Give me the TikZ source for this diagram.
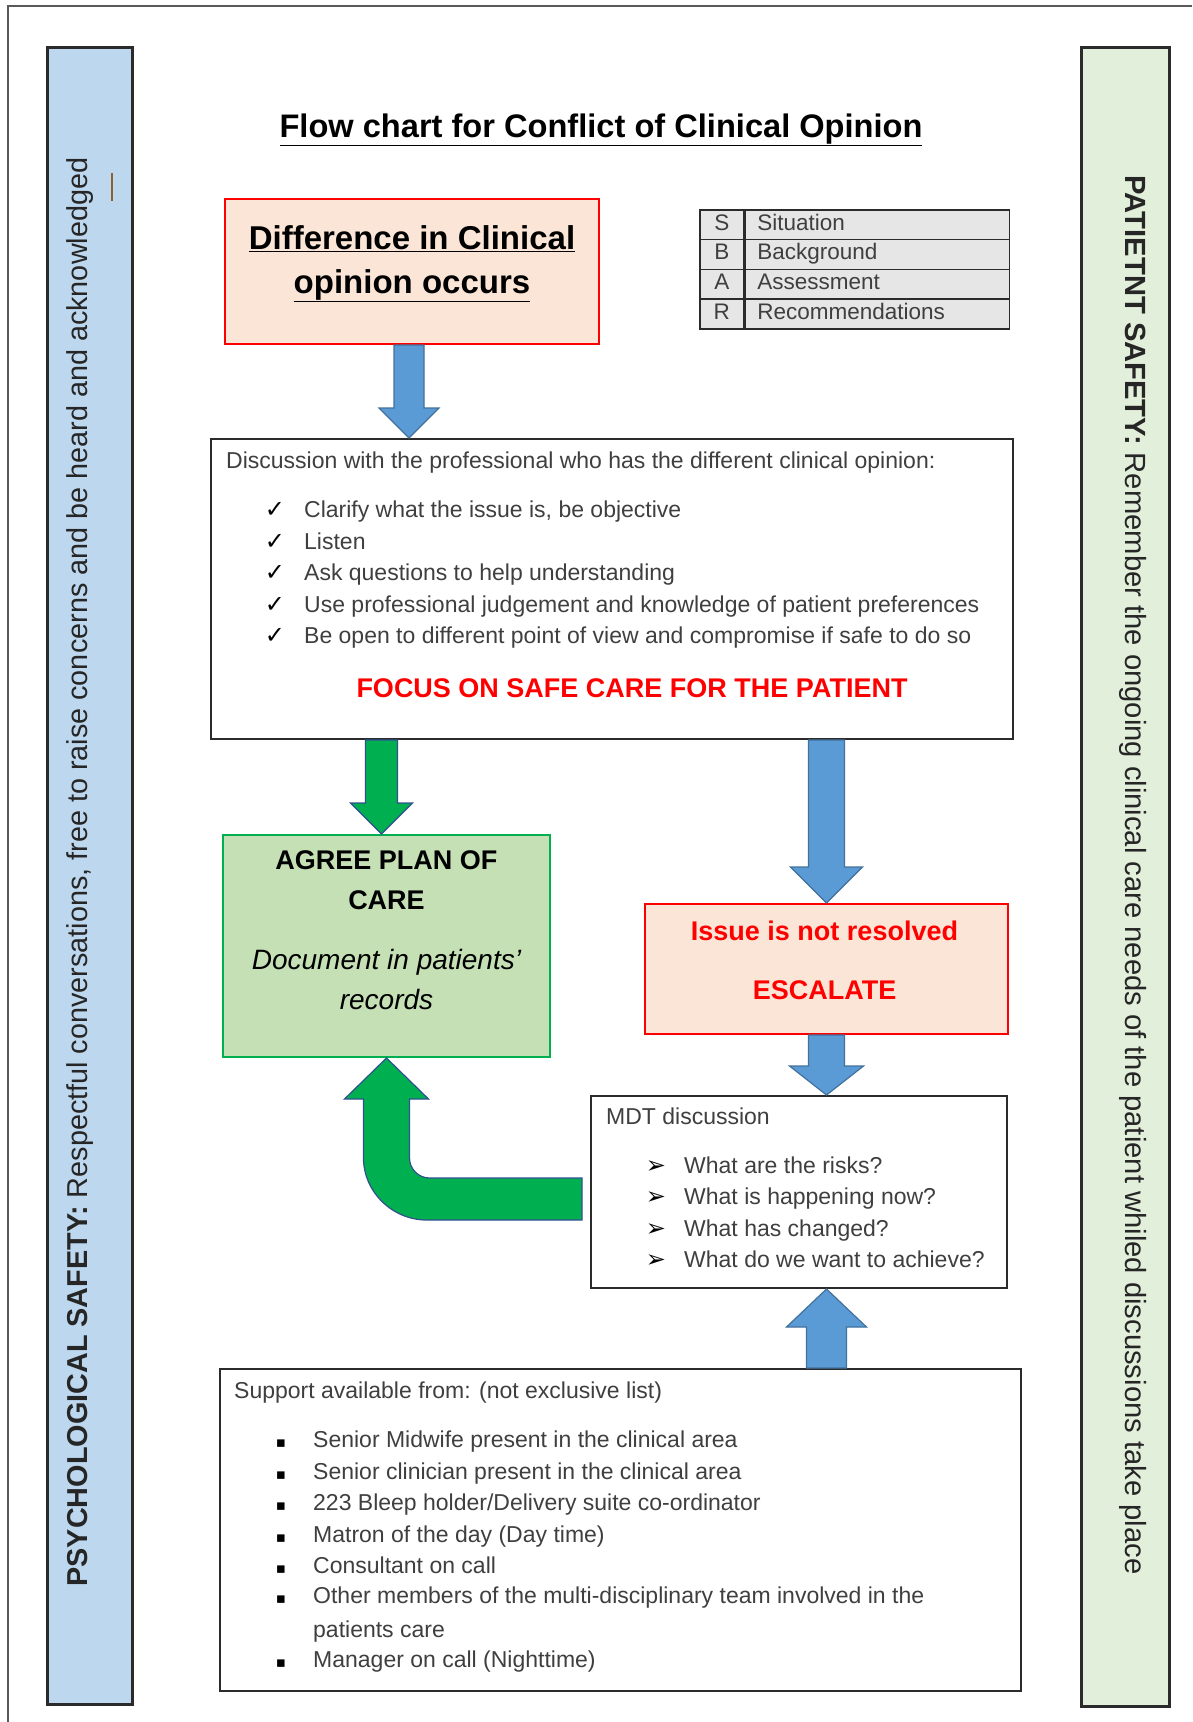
\documentclass[tikz,border=0pt]{standalone}
\usepackage{fontspec}
\setmainfont{Liberation Sans}
\newfontfamily\dejavu{DejaVu Sans}
\usetikzlibrary{calc}

\definecolor{bodygray}{HTML}{3F3F3F}
\definecolor{edgegray}{HTML}{2B2B2B}
\definecolor{salmon}{HTML}{FBE5D6}
\definecolor{alertred}{HTML}{FF0000}
\definecolor{agreefill}{HTML}{C5E0B4}
\definecolor{agreeline}{HTML}{00B050}
\definecolor{sbarfill}{HTML}{E7E6E6}
\definecolor{psyfill}{HTML}{BDD7EE}
\definecolor{patfill}{HTML}{E2EFDA}
\definecolor{arrowblue}{HTML}{5B9BD5}
\definecolor{arrowblueline}{HTML}{41719C}
\definecolor{arrowgreen}{HTML}{00B050}
\definecolor{arrowgreenline}{HTML}{2F528F}

\newcommand{\fsz}[2]{\fontsize{#1}{#2}\selectfont}

% block arrow: style, from, to, shaft half width, head half width, head length
\newcommand{\blockarrow}[6]{%
  \coordinate (ba-s) at (#2);
  \coordinate (ba-t) at (#3);
  \coordinate (ba-h) at ($(ba-t)!#6!(ba-s)$);
  \draw[#1] ($(ba-s)!#4!90:(ba-t)$) -- ($(ba-h)!#4!90:(ba-t)$)
    -- ($(ba-h)!#5!90:(ba-t)$) -- (ba-t) -- ($(ba-h)!#5!-90:(ba-t)$)
    -- ($(ba-h)!#4!-90:(ba-t)$) -- ($(ba-s)!#4!-90:(ba-t)$) -- cycle;}

\tikzset{
  every node/.style={inner sep=0pt, font=\fsz{23}{28}},
  plainbox/.style={draw=edgegray, line width=2pt, fill=white, anchor=north west},
  alertbox/.style={draw=alertred, line width=2pt, fill=salmon, anchor=north west},
  agreebox/.style={draw=agreeline, line width=2pt, fill=agreefill, anchor=north west},
  sidebar/.style={draw=edgegray, line width=2.5pt, anchor=north west},
  sidetext/.style={text=black!85},
  sbarcell/.style={draw=edgegray, line width=1.5pt, fill=sbarfill, minimum height=29.75,
    text=bodygray, font=\fsz{22.5}{26}, text height=16pt, text depth=5pt},
  listtext/.style={anchor=west, text=bodygray, text height=17pt, text depth=6pt},
  marktext/.style={listtext, anchor=center, text=black, font=\dejavu\fsz{24}{28}},
  dotmark/.style={marktext, font=\dejavu\fsz{15}{20}},
  bluearrow/.style={fill=arrowblue, draw=arrowblueline, line width=1.2pt},
  greenarrow/.style={fill=arrowgreen, draw=arrowgreenline, line width=1.2pt}
}

\begin{document}
\begin{tikzpicture}[x=1pt, y=-1pt]
\useasboundingbox (0,0) rectangle (1192,1722);
\draw[black!65, line width=2pt] (8,1722) -- (8,6) -- (1192,6);

\node[sidebar, fill=psyfill, minimum width=85, minimum height=1657] (psybar) at (46,46) {};
\node[sidetext, rotate=90, font=\fsz{28.8}{34}] (psytext) at (80,872)
  {\textbf{PSYCHOLOGICAL SAFETY:} Respectful conversations, free to raise concerns and be heard and acknowledged};
\draw[brown!75!black, line width=1.5pt] (112,173) -- (112,201);
\node[sidebar, fill=patfill, minimum width=88, minimum height=1659] (patbar) at (1080,46) {};
\node[sidetext, rotate=-90, font=\fsz{29.2}{34}] (pattext) at (1133,875)
  {\textbf{PATIETNT SAFETY:} Remember the ongoing clinical care needs of the patient whiled discussions take place};

\node[font=\bfseries\fsz{32.6}{38}] (title) at (601,130) {\underline{Flow chart for Conflict of Clinical Opinion}};

\node[alertbox, minimum width=374, minimum height=145] (diff) at (224,198) {};
\node[font=\bfseries\fsz{33}{44}, align=center] (difftext) at ($(diff.center)+(0,-8)$)
  {\underline{Difference in Clinical}\\\underline{opinion occurs}};

\foreach \l/\w [count=\i] in {S/Situation, B/Background, A/Assessment, R/Recommendations}{
  \node[sbarcell, minimum width=44, anchor=north west] (sbl\i) at (699,{209+29.75*(\i-1)}) {\l};
  \node[sbarcell, minimum width=264, anchor=west, text width=240pt, align=left] (sbw\i) at (sbl\i.east) {\w};
}

\node[plainbox, minimum width=802, minimum height=300] (disc) at (210,438) {};
\node[listtext] (dischead) at ($(disc.north west)+(16,25)$)
  {Discussion with the professional who has the different clinical opinion:};
\foreach \txt [count=\i] in {{Clarify what the issue is, be objective}, Listen, Ask questions to help understanding,
    Use professional judgement and knowledge of patient preferences,
    Be open to different point of view and compromise if safe to do so}{
  \node[marktext] (disctick\i) at ($(disc.north west)+(65,{74+31.5*(\i-1)})$) {✓};
  \node[listtext] (discitem\i) at ($(disc.north west)+(94,{74+31.5*(\i-1)})$) {\txt};
}
\node[font=\bfseries\fsz{27}{32}, text=alertred] (focus) at ($(disc.north west)+(422,250)$)
  {FOCUS ON SAFE CARE FOR THE PATIENT};

\node[agreebox, minimum width=327, minimum height=222] (agree) at (222,834) {};
\node[font=\bfseries\fsz{27}{40}, align=center] (agreehead) at ($(agree.north)+(0,46)$) {AGREE PLAN OF\\CARE};
\node[font=\itshape\fsz{28}{40}, align=center] (agreenote) at ($(agree.north)+(0,145)$) {Document in patients’\\records};

\node[alertbox, minimum width=363, minimum height=130] (issue) at (644,903) {};
\node[font=\bfseries\fsz{27}{59}, align=center, text=alertred] (issuetext) at ($(issue.center)+(-2,-9)$)
  {Issue is not resolved\\ESCALATE};

\node[plainbox, minimum width=416, minimum height=192] (mdt) at (590,1095) {};
\node[listtext] (mdthead) at ($(mdt.north west)+(16,24)$) {MDT discussion};
\foreach \txt [count=\i] in {What are the risks?, What is happening now?, What has changed?, What do we want to achieve?}{
  \node[marktext] (mdtmark\i) at ($(mdt.north west)+(66,{73+31.3*(\i-1)})$) {➢};
  \node[listtext] (mdtitem\i) at ($(mdt.north west)+(94,{73+31.3*(\i-1)})$) {\txt};
}

\node[plainbox, minimum width=801, minimum height=322] (support) at (219,1368) {};
\node[listtext] (suphead) at ($(support.north west)+(15,25)$) {Support available from: (not exclusive list)};
\foreach \txt [count=\i] in {Senior Midwife present in the clinical area, Senior clinician present in the clinical area,
    223 Bleep holder/Delivery suite co-ordinator, Matron of the day (Day time), Consultant on call}{
  \node[dotmark] (supmark\i) at ($(support.north west)+(62,{74+31.5*(\i-1)})$) {▪};
  \node[listtext] (supitem\i) at ($(support.north west)+(94,{74+31.5*(\i-1)})$) {\txt};
}
\node[dotmark] (supmark6) at ($(support.north west)+(62,230)$) {▪};
\node[listtext] (supitem6) at ($(support.north west)+(94,230)$) {Other members of the multi-disciplinary team involved in the};
\node[listtext] (supitem6b) at ($(support.north west)+(94,264)$) {patients care};
\node[dotmark] (supmark7) at ($(support.north west)+(62,294)$) {▪};
\node[listtext] (supitem7) at ($(support.north west)+(94,294)$) {Manager on call (Nighttime)};

\blockarrow{bluearrow}{$(diff.south)+(-3,0)$}{$(diff.south |- disc.north)+(-3,0)$}{15pt}{30pt}{30pt}
\blockarrow{greenarrow}{$(agree.north |- disc.south)+(-5,0)$}{$(agree.north)+(-5,0)$}{16pt}{31pt}{31pt}
\blockarrow{bluearrow}{issue.north |- disc.south}{issue.north}{18pt}{36pt}{36pt}
\blockarrow{bluearrow}{issue.south}{issue.south |- mdt.north}{18pt}{37pt}{29pt}
\blockarrow{bluearrow}{issue.south |- support.north}{issue.south |- mdt.south}{20pt}{40pt}{38pt}

\coordinate (ucorner) at (agree.south |- mdt.west);
\draw[greenarrow] ($(mdt.west)+(-8,-14)$) -- ($(ucorner)+(43,-14)$)
  .. controls ($(ucorner)+(32,-14)$) and ($(ucorner)+(23,-23)$) .. ($(ucorner)+(23,-34)$)
  -- ($(agree.south)+(23,41)$) -- ($(agree.south)+(42,41)$) -- (agree.south)
  -- ($(agree.south)+(-42,41)$) -- ($(agree.south)+(-23,41)$) -- ($(ucorner)+(-23,-34)$)
  .. controls ($(ucorner)+(-23,0)$) and ($(ucorner)+(6,28)$) .. ($(ucorner)+(40,28)$)
  -- ($(mdt.west)+(-8,28)$) -- cycle;
\end{tikzpicture}
\end{document}
